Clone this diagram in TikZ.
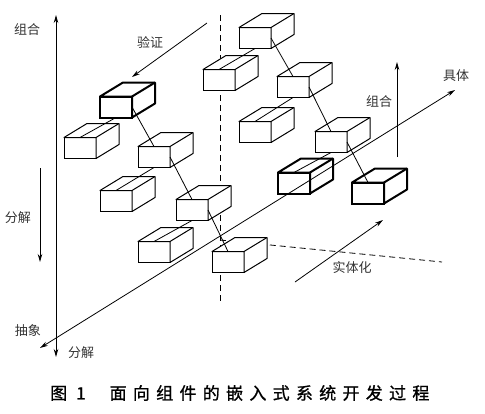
\documentclass[tikz,border=0pt]{standalone}
\usepackage{fontspec}
\newfontfamily\cjk{Noto Sans CJK SC}
\newfontfamily\capfont[LetterSpace=37,FakeBold=1]{Noto Sans CJK SC}
\usetikzlibrary{arrows.meta}
\usetikzlibrary{positioning}

\tikzset{
  face/.style={draw,fill=white,line width=1pt,minimum width=32pt,minimum height=21pt,inner sep=0pt,outer sep=0pt},
  heavy/.style={line width=2pt},
  axis/.style={line width=0.8pt},
  hidden/.style={line width=0.8pt,dash pattern=on 6pt off 4pt},
  tip/.style={-{Stealth[length=8pt,width=4.5pt]}},
  bothtips/.style={{Stealth[length=8pt,width=4.5pt]}-{Stealth[length=8pt,width=4.5pt]}},
  lab/.style={font=\cjk\fontsize{13}{13}\selectfont,text=black!80},
}

% front face is a node, top and side drawn from its anchors
\newcommand{\cuboid}[3][]{%
  \node[face,#1] (#2) at (#3) {};
  \filldraw[fill=white,line width=1pt,line join=round,#1] (#2.north west) -- ++(23,-14) -- ++(32,0) -- ++(0,21) -- (#2.south east) -- (#2.north east) -- cycle;
  \draw[line width=1pt,#1] (#2.north east) -- ++(23,-14);
}

\begin{document}
\begin{tikzpicture}[x=1pt,y=-1pt]
\useasboundingbox (0,0) rectangle (485,413);

% hidden axes
\coordinate (corner) at (220,240);
\coordinate (uptop) at (220,15);
\coordinate (updown) at (220,303);
\coordinate (farend) at (442,262);
\draw[hidden] (uptop) -- (updown);
\draw[hidden] (corner) -- (farend);

% vertical axes
\coordinate (top) at (56,15);
\coordinate (bottom) at (56,357);
\draw[axis,bothtips] (bottom) -- (top);
\coordinate (splitA) at (40,168);
\coordinate (splitB) at (40,262);
\draw[axis,tip] (splitA) -- (splitB);

% left chain
\cuboid[heavy]{P1}{116,107}
\cuboid{L1}{80,148}
\cuboid{P2}{154,157}
\cuboid{L2}{116,201}
\cuboid{P3}{192,210}
\cuboid{L3}{154,252}
\cuboid{P4}{228,262}

% right chain
\cuboid{P5}{255,38}
\cuboid{L5}{219,80}
\cuboid{P6}{293,87}
\cuboid{L6}{255,132}
\cuboid{P7}{331,142}
\cuboid[heavy]{L7}{294,183}
\cuboid[heavy]{P8}{368,193}

% pairs
\draw[axis] (L1.north) -- (P1.south);
\draw[axis] (L2.north) -- (P2.south);
\draw[axis] (L3.north) -- (P3.south);
\draw[axis] (L5.north) -- (P5.south);
\draw[axis] (L6.north) -- (P6.south);
\draw[axis] (L7.north) -- (P7.south);

% decomposition
\draw[axis] (P1.east) -- (P2.north);
\draw[axis] (P2.east) -- (P3.north);
\draw[axis] (P3.east) -- (P4.north);
\draw[axis] (P5.east) -- (P6.north);
\draw[axis] (P6.east) -- (P7.north);
\draw[axis] (P7.east) -- (P8.north);

% diagonal axis
\coordinate (abstract) at (40,348);
\coordinate (concrete) at (455,90);
\draw[axis,bothtips] (abstract) -- (concrete);

% arrows
\coordinate (verifyA) at (207,23);
\coordinate (verifyB) at (132,77);
\draw[axis,tip] (verifyA) -- (verifyB);
\coordinate (buildA) at (397,157);
\coordinate (buildB) at (397,62);
\draw[axis,tip] (buildA) -- (buildB);
\coordinate (realA) at (295,282);
\coordinate (realB) at (383,220);
\draw[axis,tip] (realA) -- (realB);

% labels
\node[lab] (lcompose) at (27,30) {组合};
\node[lab] (ldecompose) at (18,218) {分解};
\node[lab] (lbottom) at (81,353) {分解};
\node[lab] (labstract) at (28,331) {抽象};
\node[lab] (lverify) at (150,42) {验证};
\node[lab] (lconcrete) at (456,76) {具体};
\node[lab] (lbuild) at (379,102) {组合};
\node[lab] (lreal) at (352,268) {实体化};

\node[font=\capfont\fontsize{17}{17}\selectfont,anchor=west,inner sep=0pt] (caption) at (50,393) {图\hspace{9pt}1\hspace{24pt}面向组件的嵌入式系统开发过程};

\end{tikzpicture}
\end{document}
